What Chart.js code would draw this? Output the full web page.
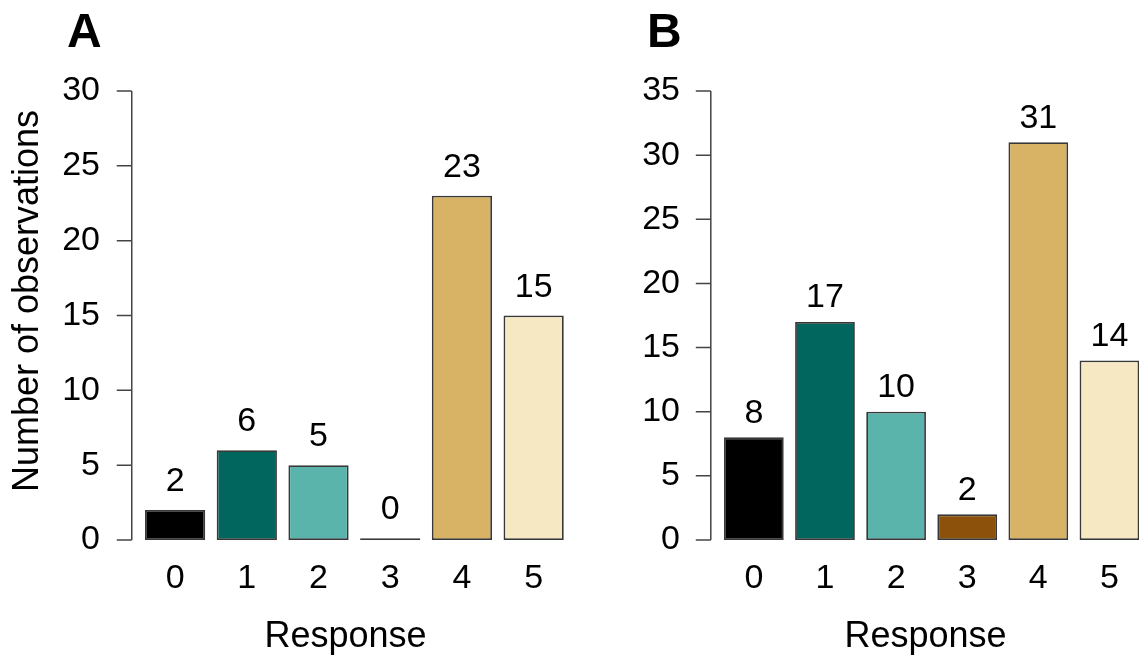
<!DOCTYPE html>
<html>
<head>
<meta charset="utf-8">
<script src="https://cdn.jsdelivr.net/npm/chart.js@4.4.0/dist/chart.umd.min.js"></script>
<style>
  html, body { margin: 0; padding: 0; background: #fff; overflow: hidden; }
  #wrap { position: relative; width: 1139px; height: 659px; overflow: hidden; }
  canvas { position: absolute; top: 0; }
  #chartA { left: 0; }
  #chartB { left: 580px; }
</style>
</head>
<body>
<div id="wrap">
  <canvas id="chartA" width="580" height="659"></canvas>
  <canvas id="chartB" width="574" height="659"></canvas>
</div>
<script>
const responses = ['0', '1', '2', '3', '4', '5']
const countsA = [2, 6, 5, 0, 23, 15]
const countsB = [8, 17, 10, 2, 31, 14]
const yMaxA = 30
const yMaxB = 35

const barColors = ['#000000', '#01665e', '#5ab4ac', '#8c510a', '#d8b365', '#f6e8c3']
const FONT = '"Liberation Sans", Arial, Helvetica, sans-serif'

// draws the R-style y axis, value labels, panel letter and axis titles
const extras = {
  id: 'extras',
  afterDatasetsDraw(chart, args, opts) {
    const ctx = chart.ctx
    const area = chart.chartArea
    const y = chart.scales.y
    ctx.save()

    // axis line sits a little left of the plot area, like base R
    const ax = area.left - 7.5
    ctx.strokeStyle = '#444'
    ctx.lineWidth = 1.5
    ctx.beginPath()
    ctx.moveTo(ax, y.getPixelForValue(0))
    ctx.lineTo(ax, y.getPixelForValue(opts.yMax))
    y.ticks.forEach(function (t) {
      const py = y.getPixelForValue(t.value)
      ctx.moveTo(ax, py)
      ctx.lineTo(ax - 15, py)
    })
    ctx.stroke()

    // value labels above bars
    ctx.fillStyle = '#000'
    ctx.font = '34px ' + FONT
    ctx.textAlign = 'center'
    ctx.textBaseline = 'alphabetic'
    const meta = chart.getDatasetMeta(0)
    const data = chart.data.datasets[0].data
    meta.data.forEach(function (bar, i) {
      ctx.fillText(String(data[i]), bar.x, bar.y - opts.gap)
    })

    // panel letter
    ctx.textAlign = 'left'
    ctx.font = 'bold 48px ' + FONT
    ctx.fillText(opts.letter, 67, 46.5)

    // x title
    ctx.textAlign = 'center'
    ctx.font = '36px ' + FONT
    ctx.fillText('Response', 345.5, 647)

    // y title (panel A only)
    if (opts.yTitle) {
      ctx.translate(28, 301)
      ctx.rotate(-Math.PI / 2)
      ctx.textBaseline = 'middle'
      ctx.fillText(opts.yTitle, 0, 0)
    }
    ctx.restore()
  }
}

function createChart(id, counts, yMax, axisWidth, rightPad, gap, letter, yTitle) {
  const ctx = document.getElementById(id).getContext('2d')
  return new Chart(ctx, {
    type: 'bar',
    data: {
      labels: responses,
      datasets: [{
        data: counts,
        backgroundColor: barColors,
        borderColor: '#383838',
        borderWidth: 1.8,
        borderSkipped: false,
        minBarLength: 1.8,
        barPercentage: 0.84,
        categoryPercentage: 1
      }]
    },
    options: {
      responsive: false,
      animation: false,
      layout: { padding: { top: 91, right: rightPad, bottom: 0, left: 0 } },
      plugins: {
        legend: { display: false },
        tooltip: { enabled: false },
        extras: { yMax: yMax, gap: gap, letter: letter, yTitle: yTitle }
      },
      scales: {
        x: {
          grid: { display: false, drawTicks: false },
          border: { display: false },
          ticks: { color: '#000', font: { family: FONT, size: 34 }, padding: 18 },
          afterFit: function (s) { s.height = 119 }
        },
        y: {
          min: 0,
          max: yMax,
          grid: { display: false, drawTicks: false },
          border: { display: false },
          ticks: { stepSize: 5, color: '#000', font: { family: FONT, size: 34 }, padding: axisWidth - 100 },
          afterFit: function (s) { s.width = axisWidth }
        }
      }
    },
    plugins: [extras]
  })
}

createChart('chartA', countsA, yMaxA, 139.25, 10.5, 19, 'A', 'Number of observations')
createChart('chartB', countsB, yMaxB, 138.3, 9, 14.5, 'B', null)
</script>
</body>
</html>
